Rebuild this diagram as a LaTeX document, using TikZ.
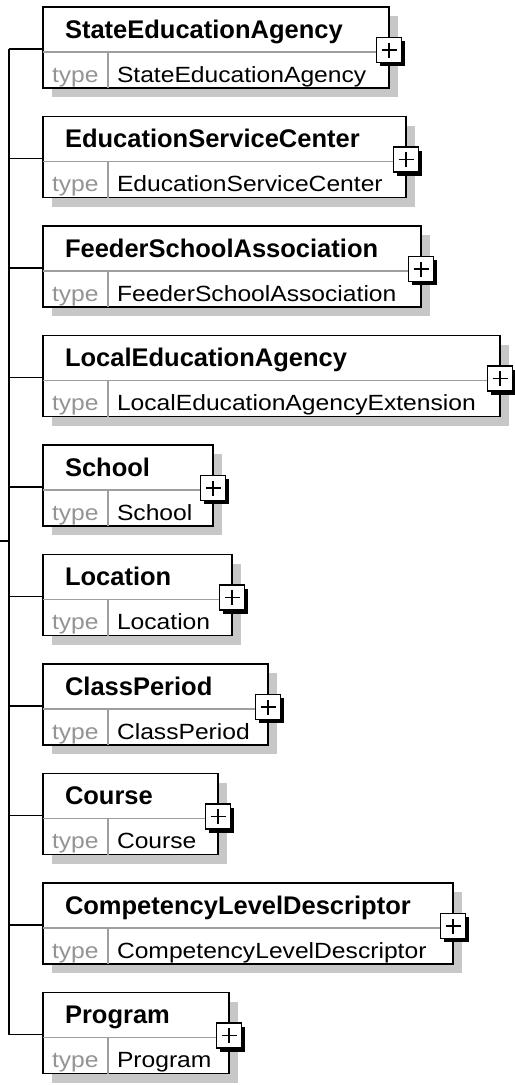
\documentclass[tikz,border=0pt]{standalone}
\usepackage{fontspec}
\setmainfont{Liberation Sans}
\newfontfamily\elemfont{Liberation Sans Bold}
\newfontfamily\typefont[FakeStretch=1.12]{Liberation Sans}
\usetikzlibrary{calc,shadows}

\begin{document}
\begin{tikzpicture}[x=1bp,y=-1bp]
    \tikzstyle{every node}=[inner sep=0pt,outer sep=0pt]
    \tikzstyle{element}=[draw,line width=1.8bp,fill=white,anchor=north west,
      minimum height=81bp,
      drop shadow={shadow xshift=9bp,shadow yshift=-9bp,fill=black!22,opacity=1}]
    \tikzstyle{expand}=[draw,line width=1.8bp,fill=white,minimum size=25bp,
      drop shadow={shadow xshift=3.5bp,shadow yshift=-3.5bp,fill=black,opacity=1},
      path picture={\draw[line width=1.8bp]
        ([xshift=-7.5bp]path picture bounding box.center) -- ([xshift=7.5bp]path picture bounding box.center)
        ([yshift=-7.5bp]path picture bounding box.center) -- ([yshift=7.5bp]path picture bounding box.center);}]
    \tikzstyle{title}=[anchor=base west,font=\elemfont\fontsize{25.5bp}{30bp}\selectfont]
    \tikzstyle{typename}=[anchor=base west,font=\typefont\fontsize{22bp}{26bp}\selectfont]
    \tikzstyle{link}=[line width=1.8bp]
    \tikzstyle{sep}=[line width=1.4bp,black!38]

    \fill[white] (0,0) rectangle (515,1085);
    \useasboundingbox (0,0) rectangle (515,1085);

    \coordinate (entry) at (0,541);
    \coordinate (trunk) at (9,541);

    \foreach \name/\i/\w/\title/\type in {
        sea/0/346/StateEducationAgency/StateEducationAgency,
        esc/1/363/EducationServiceCenter/EducationServiceCenter,
        fsa/2/378/FeederSchoolAssociation/FeederSchoolAssociation,
        lea/3/457/LocalEducationAgency/LocalEducationAgencyExtension,
        school/4/170/School/School,
        loc/5/189/Location/Location,
        cper/6/225/ClassPeriod/ClassPeriod,
        course/7/175/Course/Course,
        cld/8/410/CompetencyLevelDescriptor/CompetencyLevelDescriptor,
        prog/9/186/Program/Program}{
      \pgfmathsetmacro\top{7+109.5*\i}
      \node[element,minimum width=\w bp] (\name) at (43,\top) {};
      \draw[sep] ($(\name.north west)+(0,45)$) -- ($(\name.north east)+(0,45)$);
      \draw[sep] ($(\name.north west)+(65,45)$) -- ($(\name.south west)+(65,0)$);
      \node[title] (\name-title) at ($(\name.north west)+(22,31)$) {\title};
      \node[typename,text=black!42] (\name-kw) at ($(\name.north west)+(9,75)$) {type};
      \node[typename] (\name-type) at ($(\name.north west)+(74,75)$) {\type};
      \node[expand] (\name-exp) at ($(\name.north east)+(0,43)$) {};
      \coordinate (\name-in) at ($(\name.north west)+(0,42)$);
      \draw[link] (\name-in) -- (\name-in -| trunk);
    }

    \draw[link] (sea-in -| trunk) -- (prog-in -| trunk);
    \draw[link] (entry) -- (trunk);
\end{tikzpicture}
\end{document}
